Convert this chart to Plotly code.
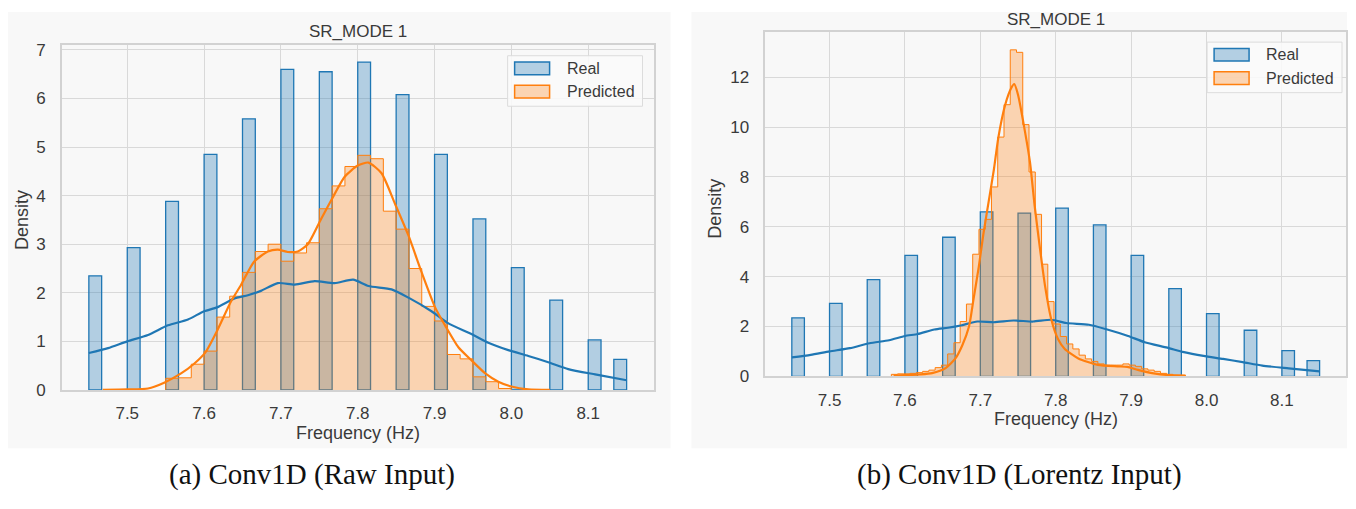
import math
import plotly.graph_objects as go

# ---------------- data ----------------
REAL_FREQ = [7.45, 7.50, 7.55, 7.60, 7.65, 7.70, 7.75, 7.80, 7.85, 7.90, 7.95, 8.00, 8.05, 8.10, 8.15]
REAL_DENSITY = [2.35, 2.93, 3.88, 4.85, 5.58, 6.60, 6.55, 6.75, 6.08, 4.85, 3.52, 2.52, 1.85, 1.03, 0.63]
HIST_LO, HIST_HI, HIST_BINS = 7.45, 8.15, 42

# panel (a): predicted histogram uses the common bins, first non-empty bin starts at 7.55
PRED_A_START = 7.55
PRED_A_DENSITY = [0.24, 0.25, 0.53, 0.80, 1.50, 1.93, 2.42, 2.85, 3.00, 2.65, 2.82, 3.03, 3.73,
                  4.20, 4.60, 4.83, 4.76, 3.68, 3.31, 2.50, 1.72, 1.42, 0.73, 0.64, 0.27, 0.17, 0.03]

# panel (b): predicted histogram with its own bins
PRED_B_START, PRED_B_BINW = 7.582, 0.0083
PRED_B_DENSITY = [0.08, 0.10, 0.10, 0.12, 0.15, 0.20, 0.25, 0.35, 0.45, 0.90, 1.35, 2.20, 2.90,
                  4.90, 5.90, 6.30, 7.60, 9.60, 10.90, 13.10, 13.00, 10.10, 8.20, 6.50, 4.50,
                  3.00, 2.10, 1.60, 1.30, 1.10, 0.85, 0.70, 0.60, 0.50, 0.45, 0.45, 0.45, 0.50,
                  0.45, 0.40, 0.30, 0.25, 0.20, 0.12, 0.08, 0.05, 0.05]

REAL_KDE_X = [7.45, 7.475, 7.50, 7.527, 7.553, 7.579, 7.60, 7.617, 7.639, 7.657, 7.674, 7.696,
              7.718, 7.744, 7.77, 7.794, 7.814, 7.844, 7.866, 7.896, 7.918, 7.948, 7.97, 7.996,
              8.022, 8.048, 8.074, 8.109, 8.15]
REAL_KDE_Y = [0.76, 0.86, 1.00, 1.13, 1.33, 1.45, 1.62, 1.70, 1.88, 1.95, 2.04, 2.20,
              2.17, 2.24, 2.20, 2.27, 2.14, 2.07, 1.90, 1.62, 1.37, 1.15, 0.97, 0.82,
              0.70, 0.57, 0.43, 0.32, 0.20]

PRED_A_KDE_X = [7.468, 7.50, 7.527, 7.548, 7.570, 7.587, 7.602, 7.617, 7.635, 7.648, 7.665, 7.683,
                7.696, 7.709, 7.722, 7.735, 7.752, 7.766, 7.783, 7.80, 7.814, 7.831, 7.848, 7.866,
                7.883, 7.901, 7.914, 7.931, 7.948, 7.966, 7.983, 8.0, 8.022, 8.05]
PRED_A_KDE_Y = [0.0, 0.01, 0.03, 0.15, 0.34, 0.54, 0.78, 1.22, 1.82, 2.16, 2.64, 2.85,
                2.89, 2.84, 2.85, 3.00, 3.51, 3.92, 4.39, 4.62, 4.68, 4.46, 3.85, 3.18,
                2.43, 1.69, 1.32, 0.88, 0.61, 0.34, 0.17, 0.07, 0.01, 0.0]

PRED_B_KDE_X = [7.585, 7.60, 7.62, 7.636, 7.654, 7.667, 7.676, 7.685, 7.691, 7.698, 7.704, 7.711,
                7.718, 7.724, 7.733, 7.741, 7.745, 7.75, 7.759, 7.766, 7.772, 7.779, 7.786, 7.794,
                7.803, 7.812, 7.83, 7.856, 7.882, 7.895, 7.909, 7.93, 7.95, 7.972]
PRED_B_KDE_Y = [0.03, 0.05, 0.08, 0.13, 0.33, 0.72, 1.24, 2.0, 3.1, 4.4, 5.7, 7.0,
                8.3, 9.6, 10.9, 11.57, 11.73, 11.3, 9.86, 8.56, 6.86, 5.16, 3.6, 2.3,
                1.5, 1.1, 0.72, 0.46, 0.40, 0.38, 0.26, 0.12, 0.05, 0.02]

X_TICKS = [7.5, 7.6, 7.7, 7.8, 7.9, 8.0, 8.1]
Y_TICKS_A = [0, 1, 2, 3, 4, 5, 6, 7]
Y_TICKS_B = [0, 2, 4, 6, 8, 10, 12]
TITLE = "SR_MODE 1"
CAPTIONS = ["(a) Conv1D (Raw Input)", "(b) Conv1D (Lorentz Input)"]

# ---------------- style ----------------
# the page body has an 8px margin, so the figure is 16px smaller than the window
OFF = 8
W, H = 1356 - 2 * OFF, 509 - 2 * OFF
BLUE, ORANGE = "#1f77b4", "#ff7f0e"
BLUE_FILL, ORANGE_FILL = "rgba(31,119,180,0.32)", "rgba(255,127,14,0.30)"
PANEL_BG = "#f8f8f8"
GRID = "#d9d9d9"
TXT = "#3a3a3a"
SANS = "Liberation Sans, Arial, sans-serif"
SERIF = "Liberation Serif, Times New Roman, serif"


def px(x):
    return min(max((x - OFF) / W, 0), 1)


def py(y):
    return min(max(1 - (y - OFF) / H, 0), 1)


bin_w = (HIST_HI - HIST_LO) / HIST_BINS
real_centers = []
for v in REAL_FREQ:
    idx = min(int(math.floor((v - HIST_LO) / bin_w + 1e-6)), HIST_BINS - 1)
    real_centers.append(HIST_LO + (idx + 0.5) * bin_w)


def step_xy(start, width, dens):
    edges = [start + i * width for i in range(len(dens) + 1)]
    xs = [edges[0]] + edges[:-1] + [edges[-1], edges[-1]]
    ys = [0] + list(dens) + [dens[-1], 0]
    return xs, ys


fig = go.Figure()

panels = [
    dict(xa="x", ya="y", pstart=PRED_A_START, pw=bin_w, pd=PRED_A_DENSITY,
         kx=PRED_A_KDE_X, ky=PRED_A_KDE_Y),
    dict(xa="x2", ya="y2", pstart=PRED_B_START, pw=PRED_B_BINW, pd=PRED_B_DENSITY,
         kx=PRED_B_KDE_X, ky=PRED_B_KDE_Y),
]

for p in panels:
    fig.add_trace(go.Bar(x=real_centers, y=REAL_DENSITY, width=bin_w,
                         marker=dict(color=BLUE_FILL, line=dict(color=BLUE, width=1.3)),
                         xaxis=p["xa"], yaxis=p["ya"], showlegend=False, hoverinfo="skip"))
    sx, sy = step_xy(p["pstart"], p["pw"], p["pd"])
    fig.add_trace(go.Scatter(x=sx, y=sy, mode="lines", line=dict(color=ORANGE, width=1, shape="hv"),
                             fill="tozeroy", fillcolor=ORANGE_FILL,
                             xaxis=p["xa"], yaxis=p["ya"], showlegend=False, hoverinfo="skip"))
    fig.add_trace(go.Scatter(x=REAL_KDE_X, y=REAL_KDE_Y, mode="lines",
                             line=dict(color=BLUE, width=2.2, shape="spline", smoothing=0.6),
                             xaxis=p["xa"], yaxis=p["ya"], showlegend=False, hoverinfo="skip"))
    fig.add_trace(go.Scatter(x=p["kx"], y=p["ky"], mode="lines",
                             line=dict(color=ORANGE, width=2.2, shape="spline", smoothing=0.6),
                             xaxis=p["xa"], yaxis=p["ya"], showlegend=False, hoverinfo="skip"))

axis_common = dict(showgrid=True, gridcolor=GRID, gridwidth=1.2, zeroline=False,
                   showline=True, linecolor="#d2d2d2", linewidth=1.5, mirror=True,
                   ticks="", tickfont=dict(family=SANS, size=17, color=TXT))

# plot areas (reference pixels): left 62-654 x, 42-397 y ; right 766-1347 x, 29-383 y
fig.update_layout(
    xaxis=dict(domain=[px(62), px(654)], range=[7.415, 8.185], tickvals=X_TICKS,
               ticktext=[f"{t:.1f}" for t in X_TICKS], anchor="y", ticklabelstandoff=7, **axis_common),
    yaxis=dict(domain=[py(397), py(42)], range=[0, 7.1], tickvals=Y_TICKS_A, anchor="x",
               ticklabelstandoff=11, **axis_common),
    xaxis2=dict(domain=[px(766), px(1347)], range=[7.415, 8.185], tickvals=X_TICKS,
                ticktext=[f"{t:.1f}" for t in X_TICKS], anchor="y2", ticklabelstandoff=7, **axis_common),
    yaxis2=dict(domain=[py(383), py(29)], range=[0, 13.8], tickvals=Y_TICKS_B, anchor="x2",
                ticklabelstandoff=11, **axis_common),
    barmode="overlay",
    width=W, height=H, margin=dict(l=0, r=0, t=0, b=0),
    paper_bgcolor="white", plot_bgcolor=PANEL_BG,
    showlegend=False,
)

shapes = [
    dict(type="rect", xref="paper", yref="paper", x0=px(8), x1=px(671), y0=py(457), y1=py(5),
         fillcolor=PANEL_BG, line=dict(width=0), layer="below"),
    dict(type="rect", xref="paper", yref="paper", x0=px(692), x1=px(1356), y0=py(457), y1=py(2),
         fillcolor=PANEL_BG, line=dict(width=0), layer="below"),
]
annots = []


def add_text(x, y, text, size, font=SANS, color=TXT, xanchor="center", angle=0):
    annots.append(dict(x=px(x), y=py(y), xref="paper", yref="paper", text=text, showarrow=False,
                       xanchor=xanchor, yanchor="middle", textangle=angle,
                       font=dict(family=font, size=size, color=color)))


# titles / axis titles
add_text(358, 28, TITLE, 17)
add_text(1057, 16, TITLE, 17)
add_text(22, 222, "Density", 18, angle=-90)
add_text(716, 210, "Density", 18, angle=-90)
add_text(358, 441, "Frequency (Hz)", 18)
add_text(1057, 427, "Frequency (Hz)", 18)

# legends
for (bx0, by0) in [(508, 53), (1208, 39)]:
    shapes.append(dict(type="rect", xref="paper", yref="paper", x0=px(bx0), x1=px(bx0 + 135),
                       y0=py(by0 + 52), y1=py(by0), fillcolor="rgba(250,250,250,0.85)",
                       line=dict(color="#dcdcdc", width=1), layer="above"))
    for i, (lab, fc, lc) in enumerate([("Real", BLUE_FILL, BLUE), ("Predicted", ORANGE_FILL, ORANGE)]):
        yc = by0 + 13 + i * 24
        shapes.append(dict(type="rect", xref="paper", yref="paper", x0=px(bx0 + 7), x1=px(bx0 + 42),
                           y0=py(yc + 6.5), y1=py(yc - 6.5), fillcolor=fc,
                           line=dict(color=lc, width=1.5), layer="above"))
        add_text(bx0 + 57, yc, lab, 16, xanchor="left")

# captions
add_text(312, 484, CAPTIONS[0], 29, font=SERIF, color="#111111")
add_text(1020, 484, CAPTIONS[1], 29, font=SERIF, color="#111111")

fig.update_layout(shapes=shapes, annotations=annots)
fig.write_html("out.html")
